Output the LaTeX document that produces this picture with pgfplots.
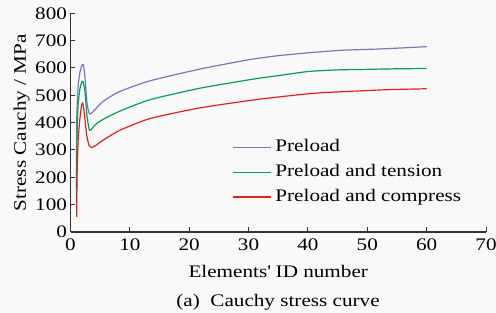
\documentclass[border=0pt]{standalone}
\usepackage{fontspec}
\setmainfont{Liberation Serif}[FakeStretch=1.2]
\usepackage{pgfplots}
\pgfplotsset{compat=1.18}
\definecolor{bgc}{RGB}{249,249,249}
\definecolor{cpre}{RGB}{122,117,192}
\definecolor{cten}{RGB}{0,162,80}
\definecolor{ccom}{RGB}{232,30,30}
\definecolor{axc}{RGB}{50,50,50}
\begin{document}
\begin{tikzpicture}
\path[use as bounding box, fill=bgc] (-70.5bp,-81bp) rectangle (425.5bp,232bp);
\begin{axis}[
  scale only axis, width=415.5bp, height=218.7bp,
  xmin=0, xmax=70, ymin=0, ymax=800,
  xtick={0,10,...,70}, ytick={0,100,...,800},
  axis x line*=bottom, axis y line*=left,
  axis line style={-, line width=1.2bp, color=axc},
  tick style={line width=1bp, color=axc},
  tick align=inside, major tick length=4.5bp,
  font=\fontsize{17.7}{20}\selectfont,
  /pgf/number format/assume math mode=true,
  xticklabel style={yshift=-3bp},
  xlabel={Elements\textquotesingle\ ID number},
  xlabel style={at={(axis description cs:0.5,0)}, anchor=base, yshift=-45bp},
  ylabel={Stress Cauchy / MPa},
  ylabel style={at={(axis description cs:0,0.5)}, anchor=base, rotate=0, yshift=44.5bp},
  legend cell align=left,
  legend style={at={(rel axis cs:0.388,0.442)}, anchor=north west, draw=none, fill=none, inner sep=0pt,
    row sep=0pt, nodes={inner sep=4.3bp, text height=12bp, text depth=4bp}},
  legend image code/.code={\draw[#1] (0bp,0bp) -- (38bp,0bp);},
]
\addplot[cpre, line width=1.2bp, smooth, tension=0.35] coordinates {
(1,165) (1.05,400) (1.15,480) (1.3,538) (1.6,586) (1.9,608) (2.15,612) (2.4,575) (2.8,470) (3.1,438) (3.4,432) (4,445) (5.5,478) (8.3,514) (13.4,553) (21.8,596) (30,630) (35,645) (41.4,658) (46,665) (52.7,670) (60,678)};
\addlegendentry{Preload}
\addplot[cten, line width=1.2bp, smooth, tension=0.35] coordinates {
(1,107) (1.05,300) (1.15,400) (1.3,470) (1.6,525) (1.9,548) (2.1,550) (2.4,520) (2.8,420) (3.2,372) (3.6,378) (4.3,395) (5.5,412) (8.3,442) (13.4,484) (21.8,526) (31,560) (35,572) (40,587) (45,593) (50,595) (55,597) (60,598)};
\addlegendentry{Preload and tension}
\addplot[ccom, line width=1.2bp, smooth, tension=0.35] coordinates {
(1.05,55) (1.1,200) (1.3,340) (1.6,418) (1.85,462) (2.05,472) (2.3,440) (2.7,360) (3.1,318) (3.6,309) (4.2,316) (5.5,336) (8.3,372) (13.4,415) (21.8,454) (31.9,486) (41.4,508) (52.7,520) (60,524)};
\addlegendentry{Preload and compress}
\end{axis}
\node[anchor=base, font=\fontsize{17.7}{20}\selectfont] at (207.5bp,-74.5bp) {(a)\ \ Cauchy stress curve};
\end{tikzpicture}
\end{document}
